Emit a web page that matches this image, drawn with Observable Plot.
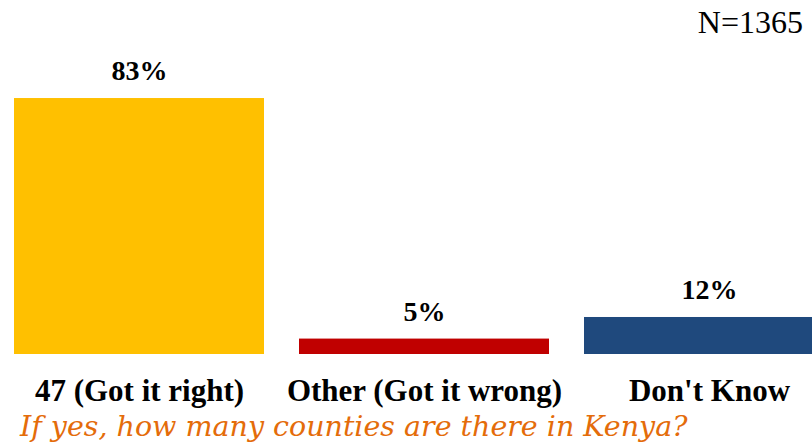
<!DOCTYPE html>
<html>
<head>
<meta charset="utf-8">
<script src="https://cdn.jsdelivr.net/npm/d3@7"></script>
<script src="https://cdn.jsdelivr.net/npm/@observablehq/plot@0.6"></script>
<style>
  html, body { margin: 0; padding: 0; background: #fff; width: 812px; height: 442px; overflow: hidden; }
  #n { height: 48px; font-family: "Liberation Serif", serif; font-size: 32px; text-align: right; padding-right: 9px; line-height: 44px; box-sizing: border-box; }
  #chart svg { display: block; overflow: visible; }
  #title { font-family: "DejaVu Serif", serif; font-style: italic; font-size: 28.5px; color: #E46C0A; padding-left: 20px; line-height: 34px; white-space: nowrap; }
</style>
</head>
<body>
<div id="n"></div>
<div id="chart"></div>
<div id="title"></div>
<script>
const categories = ["47 (Got it right)", "Other (Got it wrong)", "Don't Know"];
const values = [83, 5, 12];
const colors = ["#FFC000", "#C00000", "#1F497D"];
const sampleLabel = "N=1365";
const titleText = "If yes, how many counties are there in Kenya?";

document.getElementById("n").textContent = sampleLabel;
document.getElementById("title").textContent = titleText;

const data = categories.map((c, i) => ({category: c, value: values[i], color: colors[i]}));

const chart = Plot.plot({
  width: 812,
  height: 362,
  marginTop: 0,
  marginBottom: 56,
  marginLeft: 14,
  marginRight: 0,
  style: {fontFamily: "Liberation Serif, serif", fontSize: "26px", fontWeight: "bold", color: "#000", background: "transparent", overflow: "visible"},
  x: {domain: categories, range: [14, 834], paddingInner: 35 / 285, paddingOuter: 0, label: null},
  y: {domain: [0, 100], range: [306, 306 - 308.4], axis: null},
  marks: [
    Plot.barY(data, {x: "category", y: "value", fill: "color"}),
    Plot.text(data, {x: "category", y: "value", text: d => d.value + "%", dy: -27, fontSize: 28, fontWeight: "bold", fill: "#000"}),
    Plot.axisX({tickSize: 0, tickPadding: 24, fontSize: 31, fontWeight: "bold", label: null})
  ]
});
document.getElementById("chart").appendChild(chart);
</script>
</body>
</html>
